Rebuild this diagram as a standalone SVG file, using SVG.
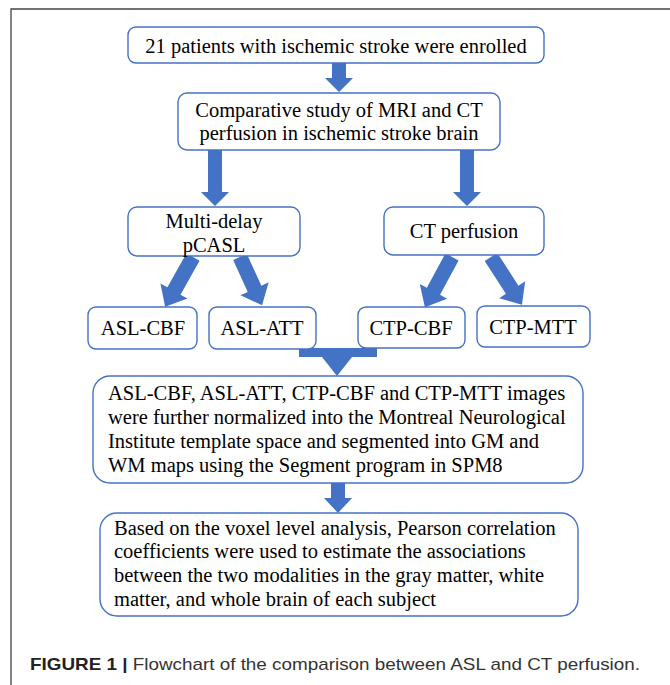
<svg xmlns="http://www.w3.org/2000/svg" width="670" height="685" viewBox="0 0 670 685">
<defs>
<style>
.box{fill:#ffffff;stroke:#4472c4;stroke-width:1.4}
.arr{fill:#4472c4}
.t{font-family:"Liberation Serif","Times New Roman",serif;font-size:20.5px;fill:#000}
.c{text-anchor:middle}
.cap{font-family:"Liberation Sans",Arial,sans-serif;font-size:17px;fill:#333}
.frame{fill:none;stroke:#444;stroke-width:1.3}
</style>
</defs>
<rect width="670" height="685" fill="#ffffff"/>
<path class="frame" d="M11,685 L11,9 L670,9"/>

<g id="connectors">
  <polygon class="arr" points="332,63 346,63 346,78 353,78 339,92 325,78 332,78"/>
  <polygon class="arr" points="208,150 222,150 222,192 229,192 215,206 201,192 208,192"/>
  <polygon class="arr" points="460,150 474,150 474,192 481,192 467,206 453,192 460,192"/>
  <polygon class="arr" transform="translate(193,257) rotate(119.25)" points="0,-7.5 39,-7.5 39,-15.5 57,0 39,15.5 39,7.5 0,7.5"/>
  <polygon class="arr" transform="translate(240,257) rotate(65.4)" points="0,-7.5 35,-7.5 35,-15.5 53,0 35,15.5 35,7.5 0,7.5"/>
  <polygon class="arr" transform="translate(452,257) rotate(118.4)" points="0,-7.5 39,-7.5 39,-15.5 57,0 39,15.5 39,7.5 0,7.5"/>
  <polygon class="arr" transform="translate(491,257) rotate(57.1)" points="0,-7.5 39,-7.5 39,-15.5 57,0 39,15.5 39,7.5 0,7.5"/>
  <polygon class="arr" points="299,348 377,348 377,357 352,357 337,376 322,357 299,357"/>
  <polygon class="arr" points="331,483 345,483 345,498 352,498 338,513 324,498 331,498"/>
</g>

<g id="n1">
  <rect class="box" x="128" y="27" width="416" height="36" rx="8"/>
  <text class="t c" x="336" y="53">21 patients with ischemic stroke were enrolled</text>
</g>
<g id="n2">
  <rect class="box" x="178" y="93" width="322" height="57" rx="9"/>
  <text class="t c" x="339" y="117">Comparative study of MRI and CT</text>
  <text class="t c" x="339" y="140">perfusion in ischemic stroke brain</text>
</g>
<g id="n3">
  <rect class="box" x="128" y="207" width="172" height="49" rx="9"/>
  <text class="t c" x="214" y="228">Multi-delay</text>
  <text class="t c" x="214" y="252">pCASL</text>
</g>
<g id="n4">
  <rect class="box" x="384" y="207" width="160" height="48" rx="9"/>
  <text class="t c" x="464" y="238">CT perfusion</text>
</g>
<g id="n5">
  <rect class="box" x="88" y="307" width="109" height="42" rx="8"/>
  <text class="t c" x="143" y="335">ASL-CBF</text>
</g>
<g id="n6">
  <rect class="box" x="209" y="307" width="107" height="42" rx="8"/>
  <text class="t c" x="262" y="335">ASL-ATT</text>
</g>
<g id="n7">
  <rect class="box" x="358" y="307" width="107" height="41" rx="8"/>
  <text class="t c" x="411" y="335">CTP-CBF</text>
</g>
<g id="n8">
  <rect class="box" x="477" y="306" width="113" height="41" rx="8"/>
  <text class="t c" x="533" y="334">CTP-MTT</text>
</g>
<g id="n9">
  <rect class="box" x="93" y="376" width="490" height="107" rx="17"/>
  <text class="t" x="108" y="400">ASL-CBF, ASL-ATT, CTP-CBF and CTP-MTT images</text>
  <text class="t" x="108" y="424">were further normalized into the Montreal Neurological</text>
  <text class="t" x="108" y="448">Institute template space and segmented into GM and</text>
  <text class="t" x="108" y="472">WM maps using the Segment program in SPM8</text>
</g>
<g id="n10">
  <rect class="box" x="100" y="513" width="478" height="103" rx="17"/>
  <text class="t" x="114" y="535">Based on the voxel level analysis, Pearson correlation</text>
  <text class="t" x="114" y="558">coefficients were used to estimate the associations</text>
  <text class="t" x="114" y="582">between the two modalities in the gray matter, white</text>
  <text class="t" x="114" y="606">matter, and whole brain of each subject</text>
</g>
<text class="cap" x="30" y="670" textLength="610" lengthAdjust="spacingAndGlyphs"><tspan font-weight="bold" fill="#222">FIGURE 1 |</tspan> Flowchart of the comparison between ASL and CT perfusion.</text>
</svg>
